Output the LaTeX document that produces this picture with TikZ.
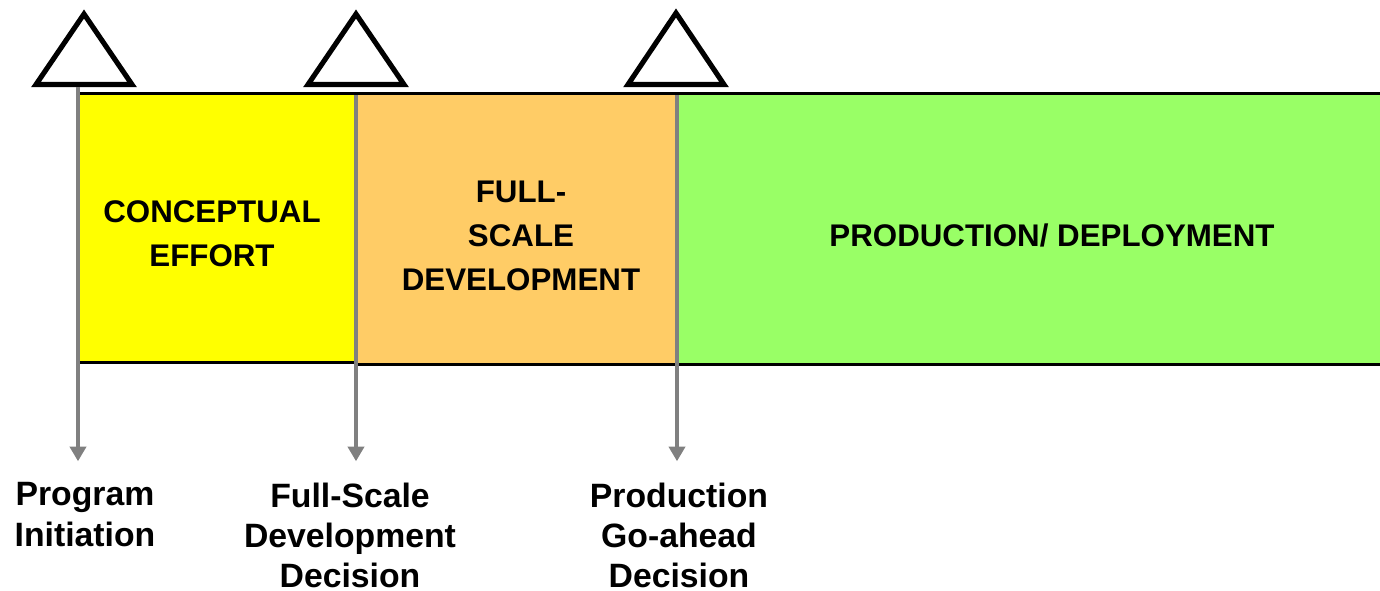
\documentclass[tikz,border=0pt]{standalone}
\usepackage{fontspec}
\setmainfont{Liberation Sans}
\usepackage{tikz}
\usetikzlibrary{positioning}
\usetikzlibrary{arrows.meta}
\definecolor{phaseyellow}{HTML}{FFFF00}
\definecolor{phaseorange}{HTML}{FFCC66}
\definecolor{phasegreen}{HTML}{99FF66}
\tikzset{
  phase/.style={font=\fontsize{8.9}{12.5}\selectfont\bfseries, align=center, inner sep=0pt},
  milestone/.style={font=\fontsize{9.6}{11.4}\selectfont\bfseries, align=center, inner sep=0pt, anchor=north},
  gate/.style={line width=1.45pt, line join=miter},
  border/.style={line width=0.85pt},
  decision/.style={line width=1.4pt, draw=gray, shorten >=5.9pt, -{Triangle[width=4.6pt,length=4.2pt]}}
}
\begin{document}
\begin{tikzpicture}[x=0.01cm,y=-0.01cm]
\useasboundingbox (0,0) rectangle (1380,590);
\fill[phaseyellow] (80,93) rectangle (356,362);
\fill[phaseorange] (356,93) rectangle (677,364);
\fill[phasegreen] (677,93) rectangle (1380,364);
\draw[border] (80,93) -- (1380,93);
\draw[border] (80,362) -- (356,362);
\draw[border] (356,364) -- (1380,364);
\draw[border] (356,93) -- (356,364);
\draw[border] (677,93) -- (677,364);
\node[phase] (concept) at (212,234) {CONCEPTUAL\\EFFORT};
\node[phase] (fullscale) at (521,236) {FULL-\\SCALE\\DEVELOPMENT};
\node[phase] (production) at (1052,235) {PRODUCTION/ DEPLOYMENT};
\draw[gate] (84,14) -- (132,84.5) -- (36,84.5) -- cycle;
\draw[gate] (356,14) -- (404,84.5) -- (308,84.5) -- cycle;
\draw[gate] (676,13) -- (724,84.5) -- (628,84.5) -- cycle;
\coordinate (gate1) at (78,87);
\coordinate (gate2) at (356,95);
\coordinate (gate3) at (677,95);
\node[milestone] (initiation) at (85,482) {Program\\Initiation};
\node[milestone] (fsdecision) at (350,482) {Full-Scale\\Development\\Decision};
\node[milestone] (goahead) at (679,482) {Production\\Go-ahead\\Decision};
\draw[decision] (gate1) -- (gate1 |- initiation.north);
\draw[decision] (gate2) -- (gate2 |- fsdecision.north);
\draw[decision] (gate3) -- (gate3 |- goahead.north);
\end{tikzpicture}
\end{document}
